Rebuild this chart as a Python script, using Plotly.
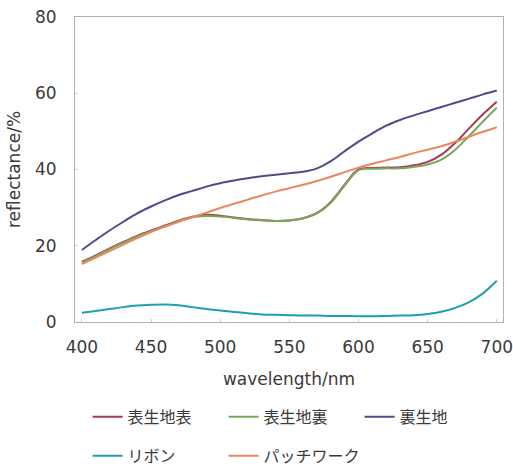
import plotly.graph_objects as go

wavelength = list(range(400, 701, 10))

omote_omote = [15.8, 17.5, 19.3, 21.0, 22.6, 24.0, 25.3, 26.6, 27.6, 28.1, 27.9, 27.4, 27.0, 26.7, 26.5, 26.6,
               27.2, 28.6, 31.5, 36.0, 40.0, 40.4, 40.5, 40.6, 41.1, 42.0, 43.9, 47.0, 50.8, 54.5, 57.8]
omote_ura = [15.6, 17.3, 19.1, 20.8, 22.4, 23.8, 25.1, 26.4, 27.5, 27.8, 27.7, 27.3, 26.9, 26.7, 26.5, 26.6,
             27.2, 28.5, 31.3, 35.8, 39.8, 40.2, 40.3, 40.3, 40.7, 41.3, 42.6, 45.2, 48.8, 52.6, 56.2]
urakiji = [18.9, 21.5, 24.0, 26.3, 28.5, 30.3, 31.9, 33.3, 34.4, 35.5, 36.4, 37.1, 37.7, 38.2, 38.6, 39.0,
           39.4, 40.3, 42.2, 44.8, 47.3, 49.5, 51.5, 53.0, 54.2, 55.3, 56.4, 57.5, 58.6, 59.7, 60.7]
ribbon = [2.4, 2.9, 3.4, 3.9, 4.3, 4.5, 4.6, 4.4, 3.9, 3.4, 3.0, 2.6, 2.3, 2.0, 1.9, 1.8,
          1.7, 1.7, 1.6, 1.6, 1.5, 1.5, 1.6, 1.7, 1.8, 2.1, 2.7, 3.7, 5.2, 7.5, 10.8]
patchwork = [15.2, 16.9, 18.6, 20.3, 22.0, 23.6, 25.0, 26.3, 27.5, 28.7, 29.9, 31.0, 32.1, 33.2, 34.2, 35.1,
             36.0, 37.0, 38.1, 39.3, 40.5, 41.5, 42.4, 43.3, 44.3, 45.2, 46.1, 47.3, 48.6, 49.9, 51.1]

x_ticks = [400, 450, 500, 550, 600, 650, 700]
y_ticks = [0, 20, 40, 60, 80]

series = [
    ("表生地表", omote_omote, "#a8385a", "legend"),
    ("表生地裏", omote_ura, "#78a85a", "legend"),
    ("裏生地", urakiji, "#4e4a8c", "legend"),
    ("リボン", ribbon, "#1e9fb0", "legend2"),
    ("パッチワーク", patchwork, "#e8895a", "legend2"),
]

fig = go.Figure()
for name, vals, color, leg in series:
    fig.add_trace(go.Scatter(x=wavelength, y=vals, name=name, mode="lines",
                             line=dict(color=color, width=2, shape="spline"),
                             legend=leg))

font_main = "DejaVu Sans, sans-serif"
text_color = "#3a3a3a"
legend_font = dict(family="Noto Sans CJK JP, sans-serif", size=16, color=text_color)

fig.update_layout(
    width=513, height=467,
    margin=dict(l=75, r=10, t=17, b=145, autoexpand=False),
    paper_bgcolor="white", plot_bgcolor="white",
    font=dict(family=font_main, size=17, color=text_color),
    legend=dict(orientation="h", x=0.0294, xanchor="left", y=-0.311, yanchor="middle",
                font=legend_font, entrywidth=91, bgcolor="rgba(0,0,0,0)"),
    legend2=dict(orientation="h", x=0.0294, xanchor="left", y=-0.439, yanchor="middle",
                 font=legend_font, entrywidth=91, bgcolor="rgba(0,0,0,0)"),
)
fig.update_xaxes(range=[395, 704.5], tickvals=x_ticks, showgrid=False, zeroline=False,
                 showline=True, linecolor="#b0b0b0", linewidth=1, mirror=True,
                 ticks="inside", ticklen=3, tickcolor="#d0d0d0", automargin=False,
                 ticklabelstandoff=10, ticklabeloverflow="allow",
                 tickfont=dict(size=17, color=text_color),
                 title=dict(text="wavelength/nm", font=dict(size=17, color=text_color), standoff=16))
fig.update_yaxes(range=[0, 80], tickvals=y_ticks, showgrid=False, zeroline=False,
                 showline=True, linecolor="#b0b0b0", linewidth=1, mirror=True,
                 ticks="inside", ticklen=3, tickcolor="#d0d0d0", automargin=False,
                 ticklabelstandoff=14, ticklabeloverflow="allow",
                 tickfont=dict(size=17, color=text_color),
                 title=dict(text="reflectance/%", font=dict(size=17, color=text_color), standoff=10))

# remove the browser's default 8px page margin so the 513x467 figure fills the window exactly
fig.write_html("out.html", config={"displayModeBar": False},
               post_script="document.body.style.margin='0px';")
